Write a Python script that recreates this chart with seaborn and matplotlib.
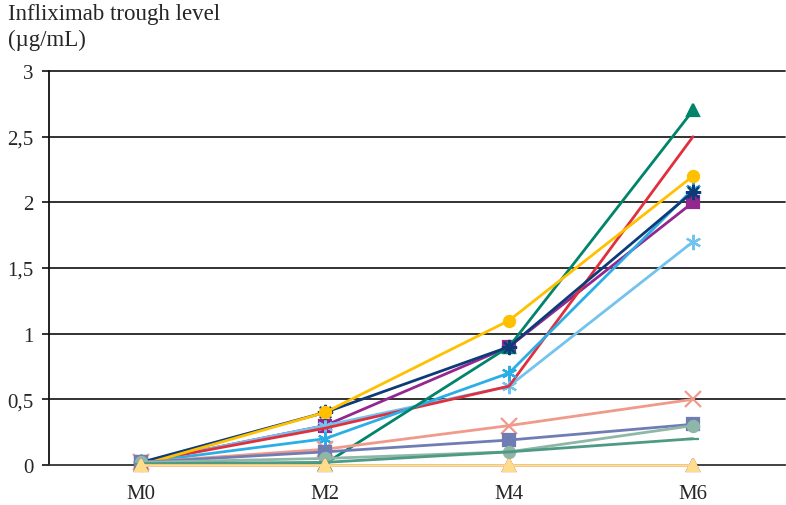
import pandas as pd
import seaborn as sns
from matplotlib import pyplot as plt

months = ["M0", "M2", "M4", "M6"]

# one list per patient (µg/mL)
purple_sq = [0.02, 0.30, 0.90, 2.00]
light_blue = [0.02, 0.30, 0.60, 1.70]
red = [0.02, 0.28, 0.60, 2.50]
navy = [0.02, 0.40, 0.90, 2.08]
gold = [0.00, 0.40, 1.10, 2.20]
sky_blue = [0.02, 0.20, 0.70, 2.10]
teal = [0.01, 0.01, 0.90, 2.70]
salmon = [0.02, 0.12, 0.30, 0.50]
slate = [0.02, 0.10, 0.19, 0.31]
grey_green = [0.02, 0.05, 0.10, 0.30]
dark_teal = [0.01, 0.02, 0.10, 0.20]
purple_zero = [0.00, 0.00, 0.00, 0.00]
pale_yellow = [0.00, 0.00, 0.00, 0.00]

series = [
    (purple_sq, "#93278F", "s"),
    (light_blue, "#72C3EE", (6, 2, 0)),
    (red, "#E0303E", None),
    (sky_blue, "#2BAEE6", (6, 2, 0)),
    (teal, "#00846A", "^"),
    (navy, "#0D3B78", (8, 2, 0)),
    (gold, "#FFC000", "o"),
    (salmon, "#F09A8C", "x"),
    (slate, "#6F7DB4", "s"),
    (grey_green, "#8FB7A8", "o"),
    (dark_teal, "#4E9A84", "_"),
    (purple_zero, "#7B2C82", "^"),
    (pale_yellow, "#FFDB8C", "^"),
]

sns.set_theme(style="white")
plt.rcParams["font.family"] = ["Liberation Serif", "DejaVu Serif"]

fig = plt.figure(figsize=(7.86, 5.06), dpi=100)
ax = fig.add_axes([49 / 786, 40 / 506, 736 / 786, 394 / 506])

for i, (vals, color, marker) in enumerate(series):
    df = pd.DataFrame({"month": months, "level": vals})
    size = 11 if isinstance(marker, tuple) or marker == "x" else 8
    kw = dict(marker=marker, markersize=size, markeredgewidth=1.6,
              markeredgecolor=color, markerfacecolor=color)
    if marker is None:
        kw = {}
    if i == 11:
        kw["markerfacecolor"] = "none"
    sns.lineplot(data=df, x="month", y="level", color=color, linewidth=2.0,
                 ax=ax, zorder=3 + i, **kw)

ax.set_xlim(-0.5, 3.5)
ax.set_ylim(0, 3)
ax.set_yticks([0, 0.5, 1, 1.5, 2, 2.5, 3])
ax.set_yticklabels(["0", "0,5", "1", "1,5", "2", "2,5", "3"])
ax.set_xlabel("")
ax.set_ylabel("")
for y in [0.5, 1, 1.5, 2, 2.5, 3]:
    ax.axhline(y, color="#222222", linewidth=1.3, zorder=1)

for s in ["top", "right"]:
    ax.spines[s].set_visible(False)
ax.spines["left"].set_color("#111111")
ax.spines["bottom"].set_color("#333333")
ax.spines["left"].set_linewidth(1.3)
ax.spines["bottom"].set_linewidth(1.3)
ax.tick_params(axis="y", direction="out", length=5, width=1.3,
               color="#222222", labelsize=15, pad=6, left=True)
ax.tick_params(axis="x", length=0, labelsize=15, pad=14)
for line in ax.lines:
    line.set_clip_on(False)

fig.text(8 / 786, 1 - 4 / 506, "Infliximab trough level\n(µg/mL)",
         ha="left", va="top", fontsize=16.5, linespacing=1.3)

plt.savefig("out.png", dpi=100)
plt.close()
